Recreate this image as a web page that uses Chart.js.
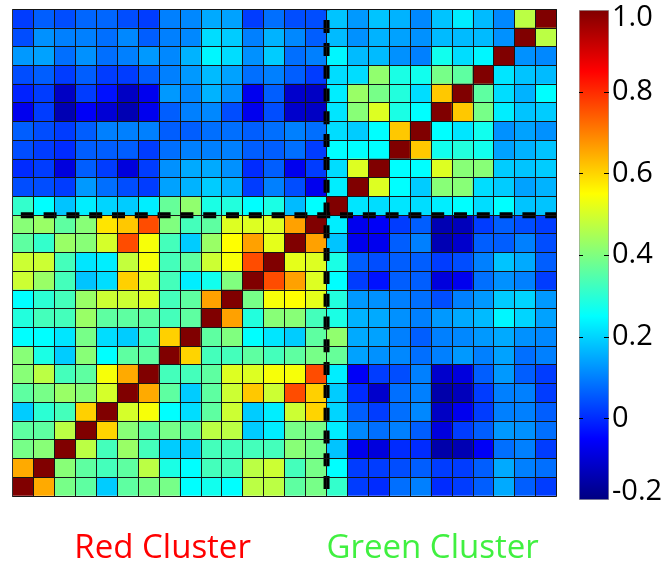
<!DOCTYPE html>
<html>
<head>
<meta charset="utf-8">
<script src="https://cdn.jsdelivr.net/npm/chart.js@4.4.1/dist/chart.umd.min.js"></script>
<style>
  html, body { margin: 0; padding: 0; background: #fff; }
  #wrap { position: relative; width: 667px; height: 563px; overflow: hidden; }
  #heat { position: absolute; left: 0; top: 0; }
  #scale { position: absolute; left: 560px; top: 0; }
</style>
</head>
<body>
<div id="wrap">
  <canvas id="heat" width="575" height="563"></canvas>
  <canvas id="scale" width="107" height="563"></canvas>
</div>
<script>
// Variables, red cluster first, then green cluster
const redVars = ['R1','R2','R3','R4','R5','R6','R7','R8','R9','R10','R11','R12','R13','R14','R15'];
const greenVars = ['G1','G2','G3','G4','G5','G6','G7','G8','G9','G10','G11'];
const variables = redVars.concat(greenVars);

// Correlation of each variable with every variable (columns in the same order)
const corr_R1  = [1.0, 0.65, 0.39, 0.36, 0.19, 0.36, 0.39, 0.39, 0.25, 0.27, 0.25, 0.47, 0.47, 0.36, 0.39, 0.31, 0.02, 0.0, 0.08, 0.10, 0.0, 0.02, 0.06, 0.15, 0.06, 0.02];
const corr_R2  = [0.65, 1.0, 0.41, 0.36, 0.33, 0.36, 0.47, 0.28, 0.25, 0.33, 0.33, 0.47, 0.49, 0.33, 0.39, 0.25, 0.02, 0.02, 0.04, 0.06, 0.02, 0.02, 0.06, 0.15, 0.10, 0.08];
const corr_R3  = [0.39, 0.41, 1.0, 0.47, 0.33, 0.43, 0.33, 0.19, 0.19, 0.33, 0.33, 0.33, 0.33, 0.41, 0.39, 0.18, -0.07, -0.09, 0.0, 0.0, -0.15, -0.14, -0.06, 0.08, 0.10, 0.02];
const corr_R4  = [0.36, 0.36, 0.47, 1.0, 0.6, 0.41, 0.36, 0.39, 0.36, 0.47, 0.47, 0.19, 0.23, 0.39, 0.39, 0.23, 0.11, 0.08, 0.10, 0.06, -0.09, 0.02, 0.06, 0.13, 0.12, 0.08];
const corr_R5  = [0.19, 0.30, 0.33, 0.605, 1.0, 0.5, 0.54, 0.25, 0.21, 0.36, 0.49, 0.19, 0.23, 0.49, 0.6, 0.2, 0.06, 0.02, 0.08, 0.11, -0.12, -0.07, 0.02, 0.10, 0.10, 0.06];
const corr_R6  = [0.36, 0.39, 0.43, 0.41, 0.5, 1.0, 0.65, 0.36, 0.19, 0.36, 0.49, 0.615, 0.49, 0.76, 0.605, 0.19, 0.0, -0.11, 0.08, 0.10, -0.15, -0.13, 0.02, 0.10, 0.10, 0.02];
const corr_R7  = [0.41, 0.47, 0.33, 0.36, 0.54, 0.65, 1.0, 0.33, 0.33, 0.36, 0.51, 0.51, 0.54, 0.54, 0.76, 0.23, -0.06, 0.02, 0.04, 0.10, -0.11, -0.09, 0.06, 0.13, 0.06, 0.02];
const corr_R8  = [0.41, 0.28, 0.19, 0.41, 0.25, 0.36, 0.36, 1.0, 0.6, 0.33, 0.33, 0.36, 0.33, 0.36, 0.39, 0.37, 0.14, 0.12, 0.11, 0.08, 0.10, 0.13, 0.10, 0.14, 0.08, 0.10];
const corr_R9  = [0.25, 0.25, 0.22, 0.39, 0.21, 0.19, 0.33, 0.605, 1.0, 0.36, 0.4, 0.25, 0.22, 0.19, 0.36, 0.42, 0.15, 0.14, 0.10, 0.06, 0.10, 0.11, 0.13, 0.15, 0.12, 0.11];
const corr_R10 = [0.29, 0.33, 0.33, 0.43, 0.36, 0.36, 0.36, 0.33, 0.36, 1.0, 0.66, 0.29, 0.41, 0.41, 0.33, 0.28, 0.16, 0.15, 0.12, 0.10, 0.13, 0.15, 0.17, 0.24, 0.2, 0.14];
const corr_R11 = [0.25, 0.30, 0.33, 0.43, 0.49, 0.49, 0.51, 0.33, 0.36, 0.66, 1.0, 0.39, 0.54, 0.55, 0.52, 0.29, 0.13, 0.12, 0.10, 0.08, 0.04, 0.10, 0.13, 0.19, 0.2, 0.13];
const corr_R12 = [0.49, 0.43, 0.33, 0.18, 0.21, 0.605, 0.51, 0.33, 0.23, 0.27, 0.4, 1.0, 0.76, 0.66, 0.51, 0.25, 0.02, -0.03, 0.06, 0.06, -0.09, -0.07, 0.08, 0.12, 0.10, 0.02];
const corr_R13 = [0.49, 0.49, 0.33, 0.22, 0.23, 0.48, 0.54, 0.33, 0.36, 0.49, 0.54, 0.76, 1.0, 0.52, 0.51, 0.28, 0.06, 0.04, 0.06, 0.06, 0.02, 0.04, 0.10, 0.18, 0.15, 0.06];
const corr_R14 = [0.36, 0.31, 0.43, 0.41, 0.5, 0.76, 0.54, 0.33, 0.19, 0.43, 0.55, 0.66, 0.52, 1.0, 0.66, 0.18, -0.07, -0.07, 0.06, 0.10, -0.14, -0.11, 0.06, 0.06, 0.10, 0.04];
const corr_R15 = [0.41, 0.43, 0.36, 0.41, 0.58, 0.615, 0.76, 0.4, 0.33, 0.36, 0.51, 0.51, 0.51, 0.66, 1.0, 0.23, -0.07, -0.06, 0.02, 0.06, -0.14, -0.13, 0.02, 0.06, 0.04, 0.02];
const corr_G1  = [0.31, 0.25, 0.18, 0.23, 0.2, 0.19, 0.23, 0.37, 0.42, 0.28, 0.29, 0.25, 0.28, 0.17, 0.25, 1.0, 0.22, 0.21, 0.22, 0.21, 0.23, 0.25, 0.21, 0.25, 0.18, 0.18];
const corr_G2  = [0.04, 0.04, 0.02, 0.13, 0.08, 0.04, 0.02, 0.14, 0.16, 0.19, 0.16, 0.02, 0.10, 0.04, -0.07, 0.23, 1.0, 0.51, 0.25, 0.19, 0.41, 0.41, 0.21, 0.19, 0.14, 0.16];
const corr_G3  = [0.0, 0.02, -0.09, 0.06, 0.02, -0.09, 0.02, 0.12, 0.15, 0.15, 0.12, 0.0, 0.06, -0.07, 0.02, 0.21, 0.51, 1.0, 0.25, 0.25, 0.51, 0.41, 0.41, 0.19, 0.18, 0.19];
const corr_G4  = [0.04, 0.02, 0.0, 0.06, 0.06, 0.06, 0.02, 0.08, 0.10, 0.10, 0.10, 0.06, 0.06, 0.08, 0.02, 0.25, 0.25, 0.25, 1.0, 0.615, 0.27, 0.29, 0.27, 0.14, 0.16, 0.18];
const corr_G5  = [0.06, 0.04, 0.02, 0.06, 0.10, 0.10, 0.10, 0.06, 0.06, 0.08, 0.08, 0.06, 0.08, 0.10, 0.08, 0.21, 0.19, 0.25, 0.615, 1.0, 0.25, 0.22, 0.27, 0.12, 0.14, 0.12];
const corr_G6  = [-0.07, 0.02, -0.14, -0.06, -0.10, -0.14, -0.07, 0.06, 0.10, 0.11, 0.04, -0.07, 0.04, -0.11, -0.12, 0.22, 0.41, 0.51, 0.28, 0.25, 1.0, 0.615, 0.39, 0.23, 0.18, 0.19];
const corr_G7  = [-0.01, 0.02, -0.12, 0.02, -0.03, -0.12, -0.07, 0.13, 0.11, 0.16, 0.12, -0.07, 0.06, -0.11, -0.12, 0.23, 0.43, 0.39, 0.29, 0.21, 0.615, 1.0, 0.36, 0.21, 0.16, 0.25];
const corr_G8  = [0.04, 0.06, 0.02, 0.06, 0.02, 0.02, 0.06, 0.10, 0.13, 0.17, 0.14, 0.08, 0.10, 0.06, 0.02, 0.21, 0.21, 0.42, 0.28, 0.27, 0.39, 0.36, 1.0, 0.22, 0.18, 0.17];
const corr_G9  = [0.13, 0.14, 0.08, 0.12, 0.08, 0.10, 0.13, 0.11, 0.16, 0.24, 0.21, 0.12, 0.19, 0.08, 0.10, 0.24, 0.17, 0.17, 0.12, 0.10, 0.27, 0.21, 0.24, 1.0, 0.12, 0.11];
const corr_G10 = [0.04, 0.12, 0.10, 0.10, 0.08, 0.11, 0.06, 0.10, 0.11, 0.21, 0.19, 0.10, 0.16, 0.11, 0.06, 0.17, 0.12, 0.16, 0.14, 0.12, 0.17, 0.17, 0.17, 0.12, 1.0, 0.47];
const corr_G11 = [0.02, 0.06, 0.04, 0.07, 0.07, 0.04, 0.02, 0.10, 0.11, 0.15, 0.14, 0.02, 0.08, 0.04, 0.04, 0.18, 0.13, 0.18, 0.16, 0.11, 0.18, 0.23, 0.17, 0.11, 0.47, 1.0];

// Row i of the grid (counted from the bottom) belongs to variables[i]
const corrRows = [corr_R1, corr_R2, corr_R3, corr_R4, corr_R5, corr_R6, corr_R7, corr_R8,
  corr_R9, corr_R10, corr_R11, corr_R12, corr_R13, corr_R14, corr_R15,
  corr_G1, corr_G2, corr_G3, corr_G4, corr_G5, corr_G6, corr_G7, corr_G8,
  corr_G9, corr_G10, corr_G11];

// Colour scale
const colorMin = -0.2;
const colorMax = 1.0;
const colorTicks = [1.0, 0.8, 0.6, 0.4, 0.2, 0, -0.2];
const colorTickLabels = ['1.0', '0.8', '0.6', '0.4', '0.2', '0', '-0.2'];

// Cluster captions under the matrix
const clusterNames = ['Red Cluster', 'Green Cluster'];
const clusterColors = ['#ff0000', '#40f040'];

// Jet colormap
function jetFrac(t) {
  const c = x => Math.round(255 * Math.min(1, Math.max(0, x)));
  return 'rgb(' + c(1.5 - Math.abs(4 * t - 3)) + ',' + c(1.5 - Math.abs(4 * t - 2)) + ',' + c(1.5 - Math.abs(4 * t - 1)) + ')';
}
function jet(v) {
  const t = Math.min(1, Math.max(0, (v - colorMin) / (colorMax - colorMin)));
  return jetFrac(t);
}

const nVars = variables.length;
const nRed = redVars.length;

// One floating-bar dataset per grid row; each bar spans one cell
const cellSets = corrRows.map((row, r) => ({
  type: 'bar',
  label: variables[r],
  data: variables.map(() => [r, r + 1]),
  backgroundColor: row.map(jet),
  borderWidth: 0,
  grouped: false,
  barPercentage: 1,
  categoryPercentage: 1,
  xAxisID: 'x',
  yAxisID: 'y',
  order: 2
}));

// Dashed separators between the two clusters
const splitSets = [
  {
    type: 'line',
    data: [{ x: 0, y: nRed }, { x: nVars, y: nRed }],
    xAxisID: 'x2', yAxisID: 'y',
    borderColor: '#000', borderWidth: 6,
    borderDash: [13, 9.8], borderDashOffset: 14.7,
    pointRadius: 0, tension: 0, order: 0
  },
  {
    type: 'line',
    data: [{ x: nRed, y: nVars }, { x: nRed, y: 0 }],
    xAxisID: 'x2', yAxisID: 'y',
    borderColor: '#000', borderWidth: 6,
    borderDash: [13, 9.8], borderDashOffset: 12,
    pointRadius: 0, tension: 0, order: 0
  }
];

const captionPlugin = {
  id: 'clusterCaptions',
  afterDraw(chart) {
    const ctx = chart.ctx;
    const xs = chart.scales.x2;
    const centres = [
      xs.getPixelForValue(nRed / 2) - 7,
      xs.getPixelForValue(nRed + (nVars - nRed) / 2) - 9
    ];
    ctx.save();
    ctx.font = '33px "Open Sans"';
    ctx.textAlign = 'center';
    ctx.textBaseline = 'alphabetic';
    clusterNames.forEach((name, i) => {
      ctx.fillStyle = clusterColors[i];
      ctx.fillText(name, centres[i], 558);
    });
    ctx.restore();
  }
};

new Chart(document.getElementById('heat'), {
  type: 'bar',
  data: { labels: variables, datasets: cellSets.concat(splitSets) },
  options: {
    responsive: false,
    animation: false,
    layout: { padding: { left: 12.7, top: 9.3, right: 18.3, bottom: 67 } },
    plugins: { legend: { display: false }, tooltip: { enabled: false } },
    scales: {
      x: {
        type: 'category',
        offset: true,
        grid: { offset: true, color: '#151515', lineWidth: 1, drawTicks: false, z: 1 },
        border: { display: true, color: '#9a9a9a', width: 1, z: 1 },
        ticks: { display: false, autoSkip: false }
      },
      x2: { type: 'linear', min: 0, max: nVars, offset: false, display: false },
      y: {
        type: 'linear',
        min: 0,
        max: nVars,
        grid: { color: '#151515', lineWidth: 1, drawTicks: false, z: 1 },
        border: { display: true, color: '#333', width: 1, z: 1 },
        ticks: { display: false, stepSize: 1, maxTicksLimit: 100 }
      }
    }
  },
  plugins: [captionPlugin]
});

// Colour bar
const colorbarPlugin = {
  id: 'colorbarTicks',
  afterDraw(chart) {
    const ctx = chart.ctx;
    const ys = chart.scales.y;
    const area = chart.chartArea;
    ctx.save();
    ctx.strokeStyle = '#000';
    ctx.lineWidth = 1;
    colorTicks.forEach(v => {
      if (v === colorMin || v === colorMax) return;
      const py = Math.round(ys.getPixelForValue(v)) + 0.5;
      ctx.beginPath();
      ctx.moveTo(area.left, py); ctx.lineTo(area.left + 4, py);
      ctx.moveTo(area.right - 5, py); ctx.lineTo(area.right, py);
      ctx.stroke();
    });
    ctx.font = '29px "Open Sans"';
    ctx.fillStyle = '#000';
    ctx.textAlign = 'left';
    ctx.textBaseline = 'middle';
    colorTicks.forEach((v, i) => {
      let py = ys.getPixelForValue(v);
      py = Math.min(area.bottom - 8, Math.max(area.top + 8, py));
      ctx.fillText(colorTickLabels[i], area.right + 3, py);
    });
    ctx.restore();
  }
};

new Chart(document.getElementById('scale'), {
  type: 'bar',
  data: {
    labels: ['scale'],
    datasets: [{
      data: [[colorMin, colorMax]],
      backgroundColor(ctx) {
        const chart = ctx.chart;
        const ys = chart.scales.y;
        if (!ys || !chart.chartArea) return '#888';
        const g = chart.ctx.createLinearGradient(0, ys.getPixelForValue(colorMin), 0, ys.getPixelForValue(colorMax));
        [0, 0.125, 0.375, 0.625, 0.875, 1].forEach(t => g.addColorStop(t, jetFrac(t)));
        return g;
      },
      borderColor: '#a0a0a0',
      borderWidth: 1,
      borderSkipped: false,
      barPercentage: 1,
      categoryPercentage: 1
    }]
  },
  options: {
    responsive: false,
    animation: false,
    layout: { padding: { left: 19, top: 10, right: 58, bottom: 63 } },
    plugins: { legend: { display: false }, tooltip: { enabled: false } },
    scales: {
      x: { display: false },
      y: { display: false, min: colorMin, max: colorMax }
    }
  },
  plugins: [colorbarPlugin]
});
</script>
</body>
</html>
